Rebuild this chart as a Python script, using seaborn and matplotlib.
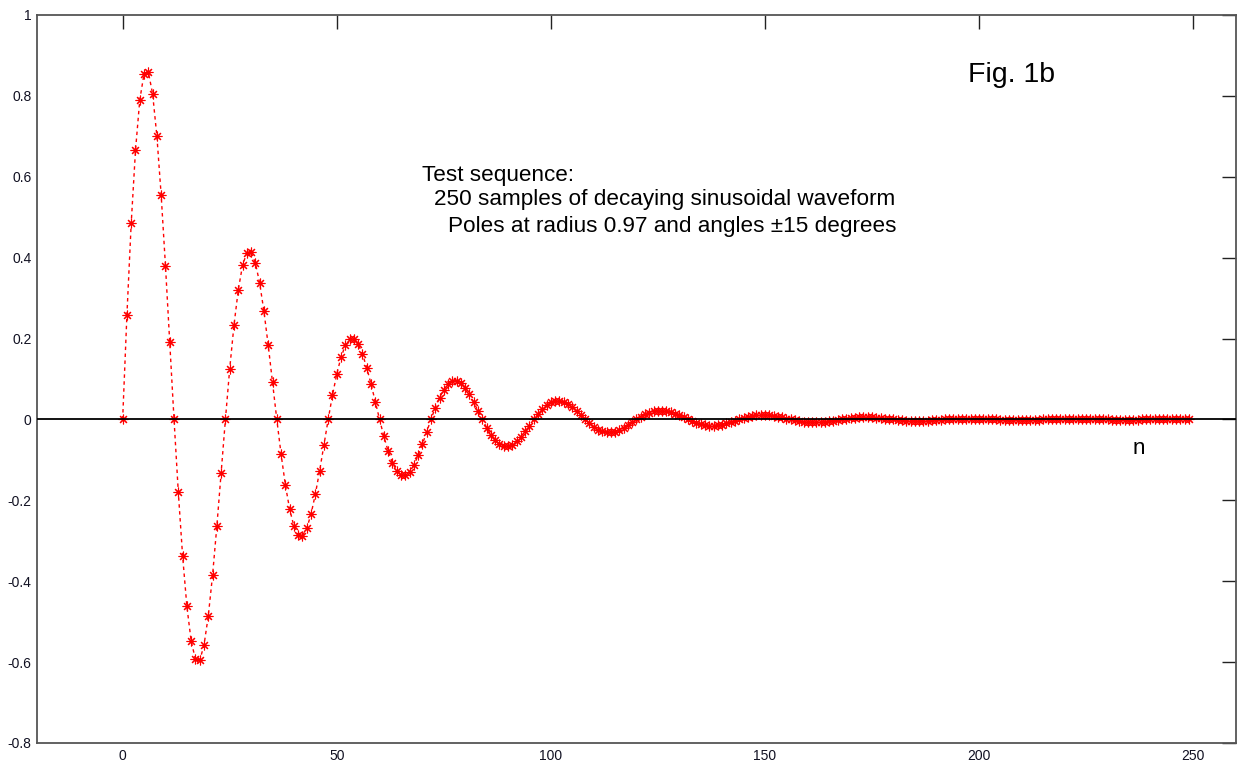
import matplotlib
matplotlib.use("Agg")
import matplotlib.pyplot as plt
import seaborn as sns
import numpy as np
import pandas as pd

# sample index
n_values = list(range(250))

# sample values (decaying sinusoid, 24-sample period)
y_values = [
    0, 0.259, 0.485, 0.665, 0.790, 0.855, 0.859, 0.805, 0.700, 0.554, 0.380, 0.191,
    0, -0.180, -0.337, -0.462, -0.548, -0.593, -0.596, -0.558, -0.486, -0.385, -0.264, -0.132,
    0, 0.125, 0.233, 0.320, 0.381, 0.412, 0.413, 0.387, 0.337, 0.267, 0.183, 0.092,
    0, -0.086, -0.162, -0.222, -0.264, -0.286, -0.287, -0.269, -0.234, -0.185, -0.127, -0.064,
    0, 0.060, 0.112, 0.154, 0.183, 0.198, 0.199, 0.186, 0.162, 0.128, 0.088, 0.044,
    0, -0.042, -0.078, -0.107, -0.127, -0.138, -0.138, -0.129, -0.113, -0.089, -0.061, -0.031,
    0, 0.029, 0.054, 0.074, 0.088, 0.095, 0.096, 0.090, 0.078, 0.062, 0.042, 0.021,
    0, -0.020, -0.038, -0.052, -0.061, -0.066, -0.066, -0.062, -0.054, -0.043, -0.029, -0.015,
    0, 0.014, 0.026, 0.036, 0.042, 0.046, 0.046, 0.043, 0.038, 0.030, 0.020, 0.010,
    0, -0.010, -0.018, -0.025, -0.029, -0.032, -0.032, -0.030, -0.026, -0.021, -0.014, -0.007,
    0, 0.007, 0.013, 0.017, 0.020, 0.022, 0.022, 0.021, 0.018, 0.014, 0.010, 0.005,
    0, -0.005, -0.009, -0.012, -0.014, -0.015, -0.015, -0.014, -0.013, -0.010, -0.007, -0.003,
    0, 0.003, 0.006, 0.008, 0.010, 0.011, 0.011, 0.010, 0.009, 0.007, 0.005, 0.002,
    0, -0.002, -0.004, -0.006, -0.007, -0.007, -0.007, -0.007, -0.006, -0.005, -0.003, -0.002,
    0, 0.002, 0.003, 0.004, 0.005, 0.005, 0.005, 0.005, 0.004, 0.003, 0.002, 0.001,
    0, -0.001, -0.002, -0.003, -0.003, -0.004, -0.004, -0.003, -0.003, -0.002, -0.002, -0.001,
    0, 0.001, 0.001, 0.002, 0.002, 0.002, 0.002, 0.002, 0.002, 0.002, 0.001, 0.001,
    0, -0.001, -0.001, -0.001, -0.002, -0.002, -0.002, -0.002, -0.001, -0.001, -0.001, 0,
    0, 0, 0.001, 0.001, 0.001, 0.001, 0.001, 0.001, 0.001, 0.001, 0.001, 0,
    0, 0, 0, -0.001, -0.001, -0.001, -0.001, -0.001, -0.001, -0.001, 0, 0,
    0, 0, 0, 0, 0.001, 0.001, 0.001, 0.001, 0, 0,
]

x_ticks = [0, 50, 100, 150, 200, 250]
y_ticks = [-0.8, -0.6, -0.4, -0.2, 0, 0.2, 0.4, 0.6, 0.8, 1]
y_tick_labels = ["-0.8", "-0.6", "-0.4", "-0.2", "0", "0.2", "0.4", "0.6", "0.8", "1"]
x_tick_labels = ["0", "50", "100", "150", "200", "250"]

title_text = "Fig. 1b"
note_lines = [
    "Test sequence:",
    "250 samples of decaying sinusoidal waveform",
    "Poles at radius 0.97 and angles \u00b115 degrees",
]

sns.set_style("white")
plt.rcParams["font.family"] = ["Liberation Sans", "DejaVu Sans"]

fig = plt.figure(figsize=(12.41, 7.69), dpi=100)
ax = fig.add_axes([37 / 1241, 1 - 743 / 769, (1236 - 37) / 1241, (743 - 15) / 769])

df = pd.DataFrame({"n": n_values, "y": y_values})
sns.lineplot(data=df, x="n", y="y", ax=ax, color="red", linestyle=(0, (2.5, 2.5)), lw=1.0,
             marker=(8, 2, 0), markersize=7, markeredgecolor="red", markeredgewidth=0.8,
             zorder=3)
ax.axhline(0, color="black", lw=1.3, zorder=4)

ax.set_xlim(-20, 260)
ax.set_ylim(-0.8, 1)
ax.set_xticks(x_ticks)
ax.set_xticklabels(x_tick_labels)
ax.set_yticks(y_ticks)
ax.set_yticklabels(y_tick_labels)
ax.set_xlabel("")
ax.set_ylabel("")
ax.tick_params(direction="in", length=10, width=1, color="#222222", labelsize=10,
               labelcolor="#111122", top=True, right=True, pad=4)
for s in ax.spines.values():
    s.set_visible(True)
    s.set_color("#555555")
    s.set_linewidth(1.3)

ax.text(197.5, 0.852, title_text, fontsize=20.5, ha="left", va="center", color="black")
ax.text(70.0, 0.604, note_lines[0], fontsize=16.2, ha="left", va="center", color="black")
ax.text(72.8, 0.543, note_lines[1], fontsize=16.2, ha="left", va="center", color="black")
ax.text(75.9, 0.476, note_lines[2], fontsize=16.2, ha="left", va="center", color="black")
ax.text(237.4, -0.071, "n", fontsize=16.2, ha="center", va="center", color="black")

fig.savefig("out.png", dpi=100, facecolor="white")
